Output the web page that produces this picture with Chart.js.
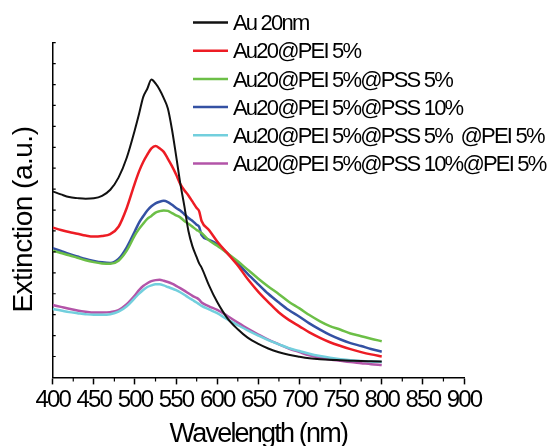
<!DOCTYPE html>
<html><head><meta charset="utf-8">
<script src="https://cdn.jsdelivr.net/npm/chart.js@4.4.0/dist/chart.umd.min.js"></script>
<style>html,body{margin:0;padding:0;background:#fff;} #wrap{width:548px;height:446px;}</style>
</head><body><div id="wrap"><canvas id="c" width="548" height="446"></canvas></div>
<script>
const wavelengths = [400,410,420,430,440,450,460,470,480,490,500,505,510,515,520,525,530,535,540,545,550,555,560,565,570,575,578,581,590,600,612,625,637,650,662,675,687,700,712,725,737,750,762,775,787,800];
const au20nm      = [8.89,8.75,8.62,8.57,8.54,8.56,8.68,8.97,9.55,10.5,11.85,12.6,13.4,13.8,14.24,14.05,13.75,13.35,12.85,11.85,10.6,9.3,8.2,7.0,6.25,5.75,5.45,5.25,4.4,3.6,2.85,2.3,1.9,1.6,1.38,1.2,1.08,0.99,0.92,0.87,0.84,0.82,0.8,0.78,0.77,0.76];
const pei5        = [7.16,7.05,6.95,6.87,6.78,6.73,6.76,6.85,7.2,8.1,9.3,9.85,10.3,10.65,10.95,11.06,10.95,10.78,10.45,10.1,9.7,9.25,8.95,8.7,8.4,8.1,7.95,7.48,7.05,6.5,5.95,5.35,4.7,4.09,3.6,3.1,2.75,2.44,2.15,1.89,1.68,1.5,1.35,1.21,1.1,1.0];
const pss5        = [6.06,5.95,5.84,5.72,5.6,5.51,5.45,5.43,5.58,6.06,6.8,7.1,7.35,7.58,7.72,7.88,7.95,7.98,7.96,7.85,7.75,7.65,7.48,7.35,7.2,7.05,6.98,6.9,6.55,6.3,5.95,5.55,5.15,4.72,4.35,3.98,3.62,3.3,2.98,2.68,2.45,2.28,2.1,1.97,1.85,1.73];
const pss10       = [6.18,6.04,5.9,5.78,5.66,5.57,5.5,5.47,5.66,6.22,7.0,7.4,7.7,7.98,8.18,8.32,8.4,8.44,8.38,8.25,8.1,7.98,7.8,7.62,7.48,7.3,7.2,6.8,6.58,6.37,5.95,5.45,4.95,4.45,4.0,3.58,3.22,2.9,2.58,2.28,2.03,1.81,1.64,1.5,1.36,1.23];
const pss5pei5    = [3.27,3.2,3.12,3.07,3.02,2.99,2.99,3.02,3.14,3.4,3.8,4.0,4.18,4.32,4.4,4.45,4.45,4.4,4.32,4.25,4.17,4.07,3.95,3.82,3.7,3.58,3.5,3.42,3.25,3.07,2.78,2.5,2.25,2.0,1.78,1.58,1.4,1.26,1.13,1.02,0.94,0.87,0.82,0.79,0.76,0.74];
const pss10pei5   = [3.46,3.37,3.28,3.2,3.14,3.1,3.1,3.12,3.22,3.5,3.92,4.17,4.37,4.5,4.6,4.65,4.67,4.62,4.56,4.48,4.38,4.27,4.15,4.02,3.9,3.8,3.72,3.58,3.4,3.23,2.95,2.62,2.33,2.05,1.8,1.58,1.38,1.21,1.06,0.94,0.86,0.79,0.73,0.68,0.63,0.59];

const seriesLabels = ['Au 20nm','Au20@PEI 5%','Au20@PEI 5%@PSS 5%','Au20@PEI 5%@PSS 10%','Au20@PEI 5%@PSS 5%  @PEI 5%','Au20@PEI 5%@PSS 10%@PEI 5%'];
const seriesValues = [au20nm, pei5, pss5, pss10, pss5pei5, pss10pei5];
const seriesColors = ['#111111','#ed1c24','#6cbf47','#3451a3','#72cfdd','#b354a8'];
const seriesWidths = [2,2.5,2.5,2.5,2.5,2.5];
const xMinorTicks = [425,475,525,575,625,675,725,775,825,875];
const yTickValues = [1,2,3,4,5,6,7,8,9,10,11,12,13,14,15,16];
const xTitle = 'Wavelength (nm)';
const yTitle = 'Extinction (a.u.)';

Chart.defaults.font.family = "'Liberation Sans', Arial, sans-serif";
Chart.defaults.color = '#000';

const spacing = {
  id: 'spacing',
  beforeUpdate(c){ c.ctx.letterSpacing = '-1.8px'; },
  beforeDraw(c){ c.ctx.letterSpacing = '-1.8px'; }
};

const decor = {
  id: 'decor',
  afterDraw(chart){
    const {ctx, chartArea: a, scales: {x, y}} = chart;
    ctx.save();
    ctx.strokeStyle = '#000'; ctx.lineWidth = 1.2;
    ctx.beginPath();
    xMinorTicks.forEach(v => { const px = x.getPixelForValue(v); ctx.moveTo(px, a.bottom); ctx.lineTo(px, a.bottom + 4); });
    yTickValues.forEach(v => { const py = y.getPixelForValue(v); ctx.moveTo(a.left, py); ctx.lineTo(a.left + 3, py); });
    ctx.stroke();
    ctx.fillStyle = '#000';
    ctx.font = "28px 'Liberation Sans', Arial, sans-serif";
    ctx.letterSpacing = '-0.5px';
    ctx.translate(a.left - 21, (a.top + a.bottom) / 2 + 9.5);
    ctx.rotate(-Math.PI / 2);
    ctx.textAlign = 'center'; ctx.textBaseline = 'alphabetic';
    ctx.fillText(yTitle, 0, 0);
    ctx.restore();

    ctx.save();
    ctx.font = "22px 'Liberation Sans', Arial, sans-serif";
    ctx.letterSpacing = '-1.8px';
    ctx.textAlign = 'left'; ctx.textBaseline = 'alphabetic';
    chart.data.datasets.forEach((ds, i) => {
      const yy = 22.5 + 28.2 * i;
      ctx.strokeStyle = ds.borderColor; ctx.lineWidth = 2.5;
      ctx.beginPath(); ctx.moveTo(193, yy); ctx.lineTo(228, yy); ctx.stroke();
      ctx.fillStyle = '#000';
      ctx.fillText(ds.label, 233, yy + 7.7);
    });
    ctx.restore();
  }
};

new Chart(document.getElementById('c'), {
  type: 'line',
  data: {
    datasets: seriesLabels.map((lab, k) => ({
      label: lab,
      data: wavelengths.map((w, i) => ({x: w, y: seriesValues[k][i]})),
      borderColor: seriesColors[k],
      borderWidth: seriesWidths[k],
      pointRadius: 0,
      fill: false,
      cubicInterpolationMode: 'monotone'
    }))
  },
  options: {
    responsive: false, animation: false, devicePixelRatio: 1,
    layout: {padding: {left: 52.7, right: 84, top: 42.7, bottom: -4.4}},
    plugins: {legend: {display: false}, tooltip: {enabled: false}},
    scales: {
      x: {
        type: 'linear', min: 400, max: 900,
        ticks: {stepSize: 50, autoSkip: false, maxRotation: 0, color: '#000', font: {size: 24, lineHeight: 1}, padding: 4.3},
        grid: {display: true, drawOnChartArea: false, drawTicks: true, tickLength: 7, tickColor: '#000', tickWidth: 1.5},
        border: {display: true, color: '#000', width: 1.5},
        title: {display: true, text: xTitle, color: '#000', font: {size: 27, lineHeight: 1.2}, padding: {top: 1, bottom: 0}}
      },
      y: {
        type: 'linear', min: 0, max: 16,
        ticks: {display: false, stepSize: 1},
        grid: {display: false, drawTicks: false},
        border: {display: true, color: '#000', width: 1.5}
      }
    }
  },
  plugins: [spacing, decor]
});
</script>
</body></html>
